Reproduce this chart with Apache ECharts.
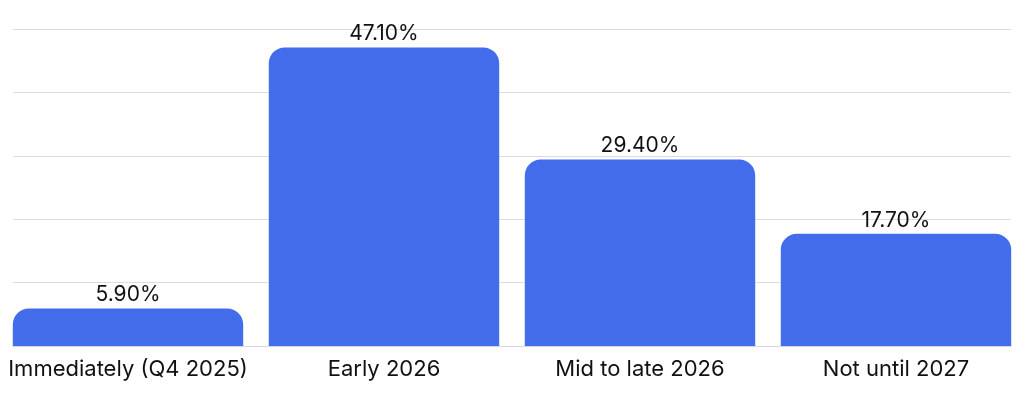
<!DOCTYPE html>
<html>
<head>
<meta charset="utf-8">
<script src="https://cdn.jsdelivr.net/npm/echarts@6/dist/echarts.min.js"></script>
<style>html,body{margin:0;padding:0;background:#fff}#c{width:1024px;height:398px}</style>
</head>
<body>
<div id="c"></div>
<script>
const categories = ['Immediately (Q4 2025)', 'Early 2026', 'Mid to late 2026', 'Not until 2027'];
const values = [5.9, 47.1, 29.4, 17.7];
const yTicks = [0, 10, 20, 30, 40, 50];

const chart = echarts.init(document.getElementById('c'), null, {renderer: 'canvas'});
const font = 'Inter, "Noto Sans", sans-serif';
chart.setOption({
  animation: false,
  grid: [
    {left: 13, right: 13, top: 29, bottom: 52, containLabel: false},
    {left: 0, right: 0, top: 29, bottom: 52, containLabel: false}
  ],
  xAxis: [
    {gridIndex: 0, type: 'category', data: categories, show: true,
     axisLine: {show: true, lineStyle: {color: '#d6d6d6', width: 1}},
     axisTick: {show: false}, axisLabel: {show: false}},
    {gridIndex: 1, type: 'category', data: categories,
     axisLine: {show: false}, axisTick: {show: false},
     axisLabel: {color: '#111', fontSize: 22, fontFamily: font, margin: 12, interval: 0}}
  ],
  yAxis: [
    {gridIndex: 0, type: 'value', min: yTicks[0], max: yTicks[yTicks.length - 1], interval: 10,
     axisLine: {show: false}, axisTick: {show: false}, axisLabel: {show: false},
     splitLine: {show: true, lineStyle: {color: '#dcdcdc', width: 1}}},
    {gridIndex: 1, type: 'value', min: yTicks[0], max: yTicks[yTicks.length - 1], interval: 10,
     axisLine: {show: false}, axisTick: {show: false}, axisLabel: {show: false},
     splitLine: {show: false}}
  ],
  series: [{
    type: 'bar', xAxisIndex: 1, yAxisIndex: 1, data: values,
    barCategoryGap: '10%',
    itemStyle: {color: '#426CEA', borderRadius: [16, 16, 0, 0]},
    label: {show: true, position: 'top', distance: 3, color: '#111', fontSize: 21, fontFamily: font,
      formatter: p => p.value.toFixed(2) + '%'}
  }]
});
</script>
</body>
</html>
